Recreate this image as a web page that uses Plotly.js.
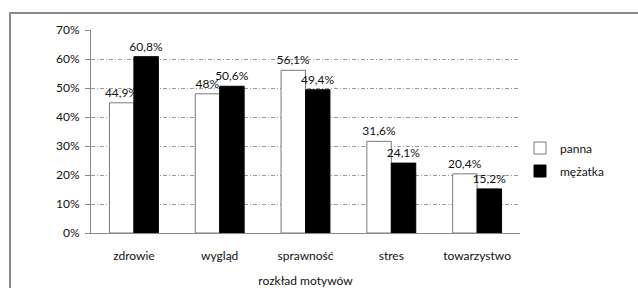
<!DOCTYPE html>
<html>
<head>
<meta charset="utf-8">
<script src="https://cdn.plot.ly/plotly-3.0.1.min.js"></script>
<style>
html,body{margin:0;padding:0;background:#fff;}
#wrap{position:relative;width:638px;height:288px;overflow:hidden;}
#chart{width:638px;height:288px;}
#frame{position:absolute;left:9px;top:12px;width:700px;height:400px;border-left:2px solid #8a8a8a;border-top:2px solid #8a8a8a;pointer-events:none;}
</style>
</head>
<body>
<div id="wrap"><div id="chart"></div><div id="frame"></div></div>
<script>
const categories = ['zdrowie', 'wygląd', 'sprawność', 'stres', 'towarzystwo'];
const panna = [44.9, 48, 56.1, 31.6, 20.4];
const mezatka = [60.8, 50.6, 49.4, 24.1, 15.2];
const seriesNames = ['panna', 'mężatka'];
const yTicks = [0, 10, 20, 30, 40, 50, 60, 70];

const fmt = v => String(v).replace('.', ',') + '%';
const font = {family: 'Lato, "Open Sans", sans-serif', size: 12, color: '#111'};

const traces = [
  {type: 'bar', name: seriesNames[0], x: categories, y: panna, legendgroup: 'g1',
   text: panna.map(fmt), textposition: 'outside', cliponaxis: false,
   constraintext: 'none', textangle: 0, textfont: font,
   marker: {color: '#ffffff', line: {color: '#7a7a7a', width: 1}}},
  {type: 'bar', name: seriesNames[1], x: categories, y: mezatka, legendgroup: 'g2',
   text: mezatka.map(fmt), textposition: 'outside', cliponaxis: false,
   constraintext: 'none', textangle: 0, textfont: font,
   marker: {color: '#000000', line: {color: '#000000', width: 1}}}
];

const layout = {
  width: 638, height: 288,
  margin: {l: 91, r: 118, t: 30, b: 55},
  paper_bgcolor: '#fff', plot_bgcolor: '#fff',
  font: font,
  barmode: 'group', bargap: 0.43, bargroupgap: 0,
  showlegend: true,
  legend: {x: 1.0, y: 0.49, xanchor: 'left', yanchor: 'top',
           font: font, itemwidth: 30, tracegroupgap: 4, bgcolor: 'rgba(0,0,0,0)'},
  xaxis: {
    showgrid: false, showline: true, linecolor: '#8a8a8a', linewidth: 1,
    ticks: '', ticklabelstandoff: 12, tickfont: font,
    title: {text: 'rozkład motywów', font: font, standoff: 14}
  },
  yaxis: {
    range: [0, 70], tickvals: yTicks, ticktext: yTicks.map(v => v + '%'),
    showgrid: true, gridcolor: '#9a9a9a', griddash: '4px,2px,1px,2px', gridwidth: 1,
    showline: true, linecolor: '#8a8a8a', linewidth: 1,
    ticks: 'outside', ticklen: 5, tickcolor: '#8a8a8a',
    tickfont: font, zeroline: false, ticklabelstandoff: 3
  }
};

Plotly.newPlot('chart', traces, layout, {displayModeBar: false, staticPlot: true});
</script>
</body>
</html>
